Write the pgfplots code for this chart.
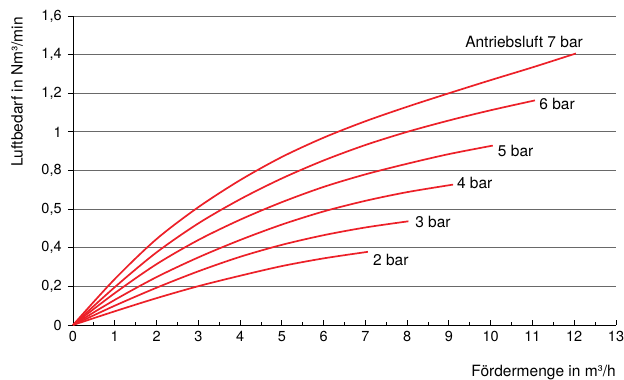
\documentclass[border=0pt]{standalone}
\usepackage{fontspec}
\setmainfont{TeX Gyre Heros}
\usepackage{pgfplots}
\pgfplotsset{compat=1.18}
\definecolor{curvered}{RGB}{236,32,40}
\definecolor{gridgray}{RGB}{105,105,105}
\tikzset{redcurve/.style={curvered, solid, line width=1.7bp, smooth, tension=0.5, mark=none}}
\begin{document}
\fontsize{15.5bp}{18bp}\selectfont
\begin{tikzpicture}
\begin{axis}[
  scale only axis,
  width=543bp, height=309bp,
  xmin=0, xmax=13, ymin=0, ymax=1.6,
  axis x line=bottom, axis y line=left,
  axis line style={-, black, line width=0.9bp},
  xtick={0,1,...,13},
  minor x tick num=1,
  xtick align=inside,
  ytick align=outside,
  major tick length=5bp,
  minor tick length=3.5bp,
  tick style={black, line width=0.9bp},
  ytick={0,0.2,0.4,0.6,0.8,1,1.2,1.4,1.6},
  yticklabels={0,{0,2},{0,4},{0,5},{0,8},1,{1,2},{1,4},{1,6}},
  ymajorgrids,
  major grid style={gridgray, line width=0.9bp},
  /pgf/number format/assume math mode=true,
  ticklabel style={font=\fontsize{14.5bp}{17bp}\selectfont},
  xticklabel style={yshift=-1bp},
  yticklabel style={xshift=-1bp},
  clip=false,
]
% 7 bar
\addplot[redcurve] coordinates {(0,0) (1,0.238) (2,0.445) (3,0.61) (4,0.75) (5,0.87) (6,0.97) (7,1.055) (8,1.13) (9,1.2) (10,1.268) (11,1.334) (12.04,1.406)};
% 6 bar
\addplot[redcurve] coordinates {(0,0) (1,0.196) (2,0.376) (3,0.526) (4,0.651) (5,0.759) (6,0.852) (7,0.932) (8,1.0) (9,1.059) (10,1.112) (11.06,1.163)};
% 5 bar
\addplot[redcurve] coordinates {(0,0) (1,0.165) (2,0.315) (3,0.44) (4,0.545) (5,0.636) (6,0.715) (7,0.78) (8,0.835) (9,0.885) (10.05,0.929)};
% 4 bar
\addplot[redcurve] coordinates {(0,0) (1,0.13) (2,0.248) (3,0.35) (4,0.44) (5,0.52) (6,0.588) (7,0.643) (8,0.688) (9.1,0.727)};
% 3 bar
\addplot[redcurve] coordinates {(0,0) (1,0.1) (2,0.193) (3,0.278) (4,0.353) (5,0.415) (6,0.465) (7,0.505) (8.03,0.537)};
% 2 bar
\addplot[redcurve] coordinates {(0,0) (1,0.071) (2,0.139) (3,0.201) (4,0.255) (5,0.305) (6,0.345) (7.06,0.379)};

\node[anchor=east, inner sep=0pt] at (axis cs:12.21,1.466) {Antriebsluft 7 bar};
\node[anchor=west, inner sep=0pt] at (axis cs:11.16,1.144) {6 bar};
\node[anchor=west, inner sep=0pt] at (axis cs:10.17,0.901) {5 bar};
\node[anchor=west, inner sep=0pt] at (axis cs:9.19,0.735) {4 bar};
\node[anchor=west, inner sep=0pt] at (axis cs:8.19,0.533) {3 bar};
\node[anchor=west, inner sep=0pt] at (axis cs:7.18,0.337) {2 bar};
\end{axis}
\node[xshift=-56bp, yshift=-1bp, rotate=90, anchor=east, inner sep=0pt] at (current axis.north west) {Luftbedarf in Nm³/min};
\node[xshift=0bp, yshift=-51bp, anchor=base east, inner sep=0pt] at (current axis.south east) {Fördermenge in m³/h};
\pgfresetboundingbox
\path (-73bp,-55bp) rectangle (551bp,325bp);
\end{tikzpicture}
\end{document}
